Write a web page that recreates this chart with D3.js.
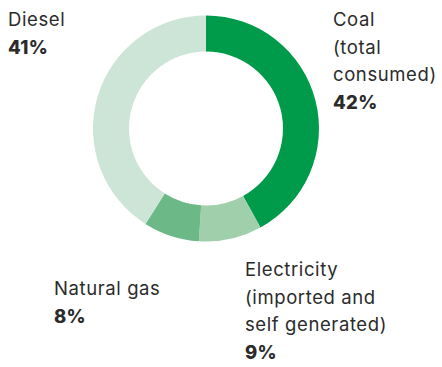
<!DOCTYPE html>
<html>
<head>
<meta charset="utf-8">
<script src="https://cdn.jsdelivr.net/npm/d3@7"></script>
<style>
  body { margin: 0; background: #fff; }
  svg { display: block; }
  text { font-family: Inter, "Noto Sans", sans-serif; fill: #2b2b2b; }
</style>
</head>
<body>
<div id="chart"></div>
<script>
var categories = ['Coal', 'Electricity', 'Natural gas', 'Diesel']
var values = [42, 9, 8, 41]
var colors = ['#009a4b', '#a0cfac', '#6cb887', '#cce5d6']
var labelLines = [
    ['Coal', '(total', 'consumed)'],
    ['Electricity', '(imported and', 'self generated)'],
    ['Natural gas'],
    ['Diesel']
]
var pctLabels = ['42%', '9%', '8%', '41%']

var width = 442
var height = 367
var cx = 206
var cy = 128.5
var outerR = 113
var innerR = 77
var lineH = 27.5

var svg = d3.select('#chart').append('svg')
    .attr('width', width)
    .attr('height', height)

var data = categories.map(function(c, i){
    return { name: c, value: values[i] }
})

var pie = d3.pie()
    .value(function(d){ return d.value })
    .sort(null)

var arc = d3.arc()
    .innerRadius(innerR)
    .outerRadius(outerR)

svg.append('g')
    .attr('transform', 'translate(' + cx + ',' + cy + ')')
    .selectAll('path')
    .data(pie(data))
    .enter()
    .append('path')
    .attr('d', arc)
    .attr('fill', function(d, i){ return colors[i] })

// label anchor positions (first baseline of each text block)
var labelPos = [
    { x: 333, y: 26 },
    { x: 245, y: 276 },
    { x: 54, y: 295 },
    { x: 8, y: 26 }
]

labelPos.forEach(function(p, i){
    var t = svg.append('text')
        .attr('x', p.x)
        .attr('y', p.y)
        .attr('font-size', 18.5)
        .attr('letter-spacing', 0.6)
    var lines = labelLines[i]
    lines.forEach(function(l, j){
        t.append('tspan')
            .attr('x', p.x)
            .attr('dy', j === 0 ? 0 : lineH)
            .text(l)
    })
    t.append('tspan')
        .attr('x', p.x)
        .attr('dy', lineH)
        .attr('font-weight', 800)
        .attr('letter-spacing', 0.3)
        .text(pctLabels[i])
})
</script>
</body>
</html>
